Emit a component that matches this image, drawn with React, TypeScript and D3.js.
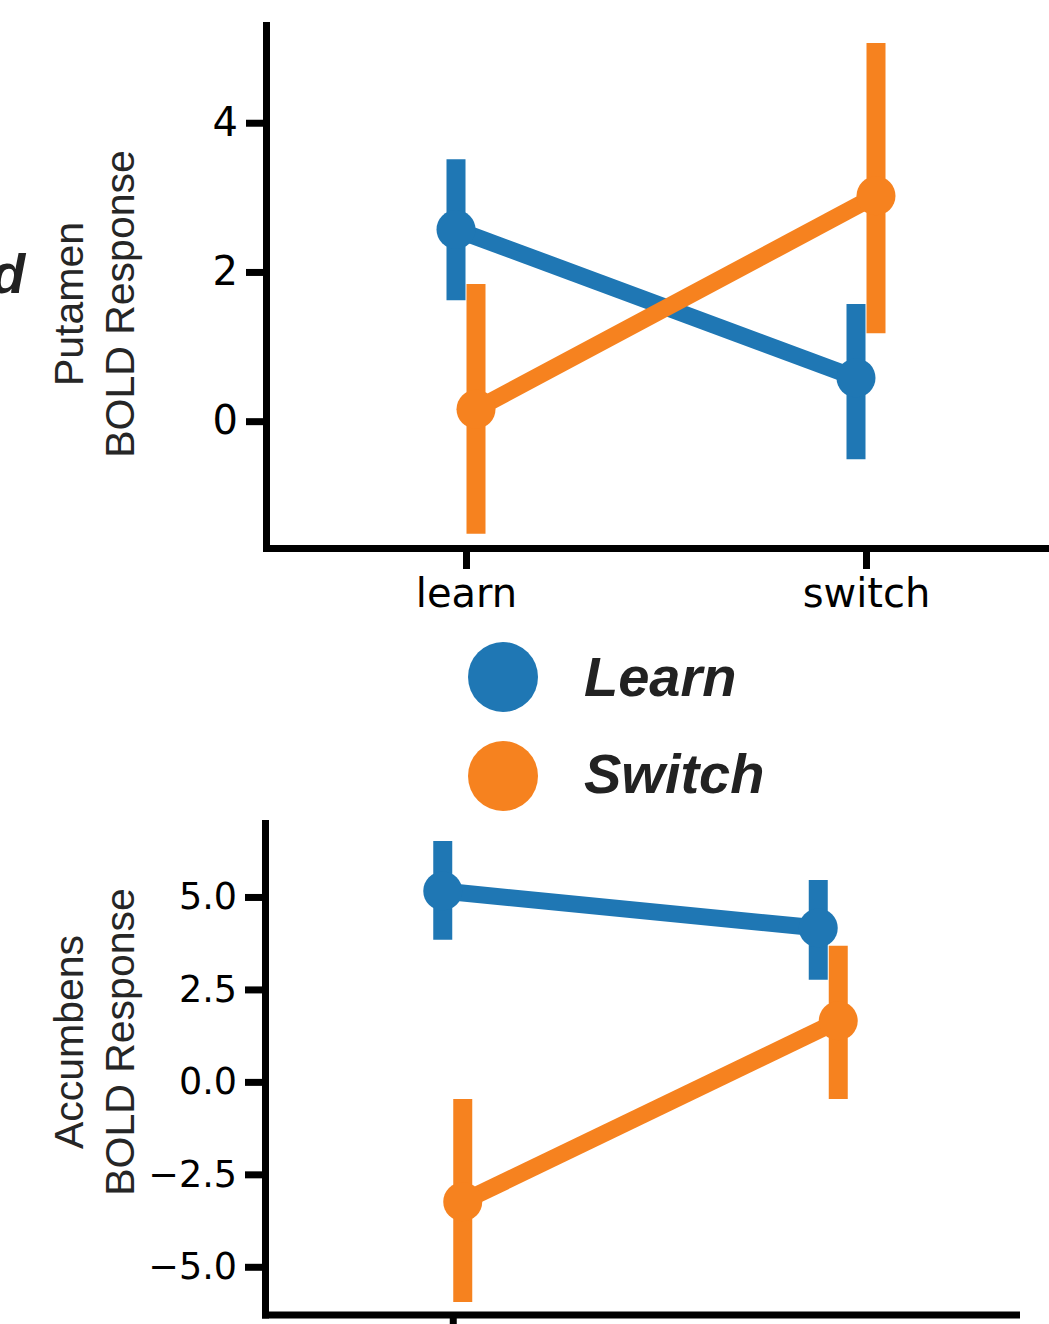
import * as d3 from "d3";
import { useEffect, useRef } from "react";

// categories on the x axis
const categories = ["learn", "switch"];
const seriesNames = ["Learn", "Switch"];
const colors = ["#1f77b4", "#f6821f"];

// Putamen panel (mean, CI low, CI high)
const putamenLearnMean = [2.57, 0.58];
const putamenLearnLow = [1.62, -0.51];
const putamenLearnHigh = [3.51, 1.57];
const putamenSwitchMean = [0.16, 3.02];
const putamenSwitchLow = [-1.51, 1.18];
const putamenSwitchHigh = [1.84, 5.07];
const putamenTicks = [0, 2, 4];

// Accumbens panel
const accumbensLearnMean = [5.16, 4.16];
const accumbensLearnLow = [3.84, 2.76];
const accumbensLearnHigh = [6.51, 5.46];
const accumbensSwitchMean = [-3.24, 1.65];
const accumbensSwitchLow = [-5.95, -0.46];
const accumbensSwitchHigh = [-0.46, 3.68];
const accumbensTicks = [-5, -2.5, 0, 2.5, 5];

const W = 1049;
const H = 1324;

const tickFont = "'DejaVu Sans', sans-serif";
const labelFont = "'Liberation Sans', Arial, Helvetica, sans-serif";

const panels = [
  {
    name: "Putamen",
    top: 25, bottom: 548, left: 266, right: 1066,
    domain: [-1.70, 5.31],
    ticks: putamenTicks,
    fmt: d3.format("d"),
    tickSize: 40,
    xTicks: categories,
    xLabels: true,
    labelY: 304,
    series: [
      { mean: putamenLearnMean, lo: putamenLearnLow, hi: putamenLearnHigh },
      { mean: putamenSwitchMean, lo: putamenSwitchLow, hi: putamenSwitchHigh },
    ],
  },
  {
    name: "Accumbens",
    top: 823, bottom: 1314.5, left: 265, right: 1016,
    domain: [-6.29, 7.0],
    ticks: accumbensTicks,
    fmt: d3.format(".1f"),
    tickSize: 36.5,
    // only the first tick is inside the picture, its label is cut away
    xTicks: categories.slice(0, 1),
    xLabels: false,
    labelY: 1042,
    series: [
      { mean: accumbensLearnMean, lo: accumbensLearnLow, hi: accumbensLearnHigh },
      { mean: accumbensSwitchMean, lo: accumbensSwitchLow, hi: accumbensSwitchHigh },
    ],
  },
];

const App = () => {
  const ref = useRef(null);

  useEffect(() => {
    const svg = d3.select(ref.current);
    svg.selectAll("*").remove();

    panels.forEach((p) => {
      const x = d3.scalePoint().domain(categories).range([p.left, p.right]).padding(0.5);
      const y = d3.scaleLinear().domain(p.domain).range([p.bottom, p.top]);
      const g = svg.append("g");

      // axes
      const yAxis = g.append("g")
        .attr("transform", `translate(${p.left},0)`)
        .call(d3.axisLeft(y).tickValues(p.ticks).tickFormat(p.fmt).tickSize(20).tickSizeOuter(0).tickPadding(8));
      const xAxis = g.append("g")
        .attr("transform", `translate(0,${p.bottom})`)
        .call(d3.axisBottom(x).tickValues(p.xTicks).tickSize(21).tickSizeOuter(0).tickPadding(10));
      if (!p.xLabels) xAxis.selectAll(".tick text").remove();
      [yAxis, xAxis].forEach((a) => {
        a.select(".domain").attr("stroke", "#000").attr("stroke-width", 7).attr("stroke-linecap", "square");
        a.selectAll(".tick line").attr("stroke", "#000").attr("stroke-width", 7);
      });
      yAxis.selectAll(".tick text")
        .attr("font-family", tickFont)
        .attr("font-size", p.tickSize)
        .attr("fill", "#000");
      xAxis.selectAll(".tick text")
        .attr("font-family", tickFont)
        .attr("font-size", 40)
        .attr("fill", "#000");

      // y label, two lines
      const lab = g.append("g")
        .attr("font-family", labelFont)
        .attr("font-size", 41)
        .attr("fill", "#262626")
        .attr("text-anchor", "middle");
      lab.append("text")
        .attr("transform", `translate(83,${p.labelY}) rotate(-90)`)
        .text(p.name);
      lab.append("text")
        .attr("transform", `translate(134,${p.labelY}) rotate(-90)`)
        .text("BOLD Response");

      // series: line, error bars, points
      p.series.forEach((s, i) => {
        const dodge = i === 0 ? -10 : 10;
        const px = (c) => x(c) + dodge;
        const sg = g.append("g");
        const line = d3.line()
          .x((d) => px(d.c))
          .y((d) => y(d.v));
        sg.append("path")
          .datum(categories.map((c, k) => ({ c, v: s.mean[k] })))
          .attr("d", line)
          .attr("fill", "none")
          .attr("stroke", colors[i])
          .attr("stroke-width", 17);
        sg.selectAll(".err")
          .data(categories)
          .enter()
          .append("line")
          .attr("x1", (c) => px(c))
          .attr("x2", (c) => px(c))
          .attr("y1", (c, k) => y(s.lo[k]))
          .attr("y2", (c, k) => y(s.hi[k]))
          .attr("stroke", colors[i])
          .attr("stroke-width", 19);
        sg.selectAll(".pt")
          .data(categories)
          .enter()
          .append("circle")
          .attr("cx", (c) => px(c))
          .attr("cy", (c, k) => y(s.mean[k]))
          .attr("r", 19.5)
          .attr("fill", colors[i]);
      });
    });

    // legend
    const leg = svg.append("g");
    seriesNames.forEach((n, i) => {
      leg.append("circle")
        .attr("cx", 503)
        .attr("cy", 677 + i * 99)
        .attr("r", 35)
        .attr("fill", colors[i]);
      leg.append("text")
        .attr("x", 584)
        .attr("y", 696 + i * 97)
        .attr("font-family", labelFont)
        .attr("font-size", 56)
        .attr("font-weight", "bold")
        .attr("font-style", "italic")
        .attr("fill", "#222")
        .text(n);
    });

    // panel letter, partly cut at the left edge
    svg.append("text")
      .attr("x", -9)
      .attr("y", 293)
      .attr("font-family", labelFont)
      .attr("font-size", 56)
      .attr("font-weight", "bold")
      .attr("font-style", "italic")
      .attr("fill", "#222")
      .text("d");
  }, []);

  return (
    <div style={{ position: "absolute", left: 0, top: 0 }}>
      <svg ref={ref} width={W} height={H} style={{ display: "block", background: "#fff" }}></svg>
    </div>
  );
};

export default App;
